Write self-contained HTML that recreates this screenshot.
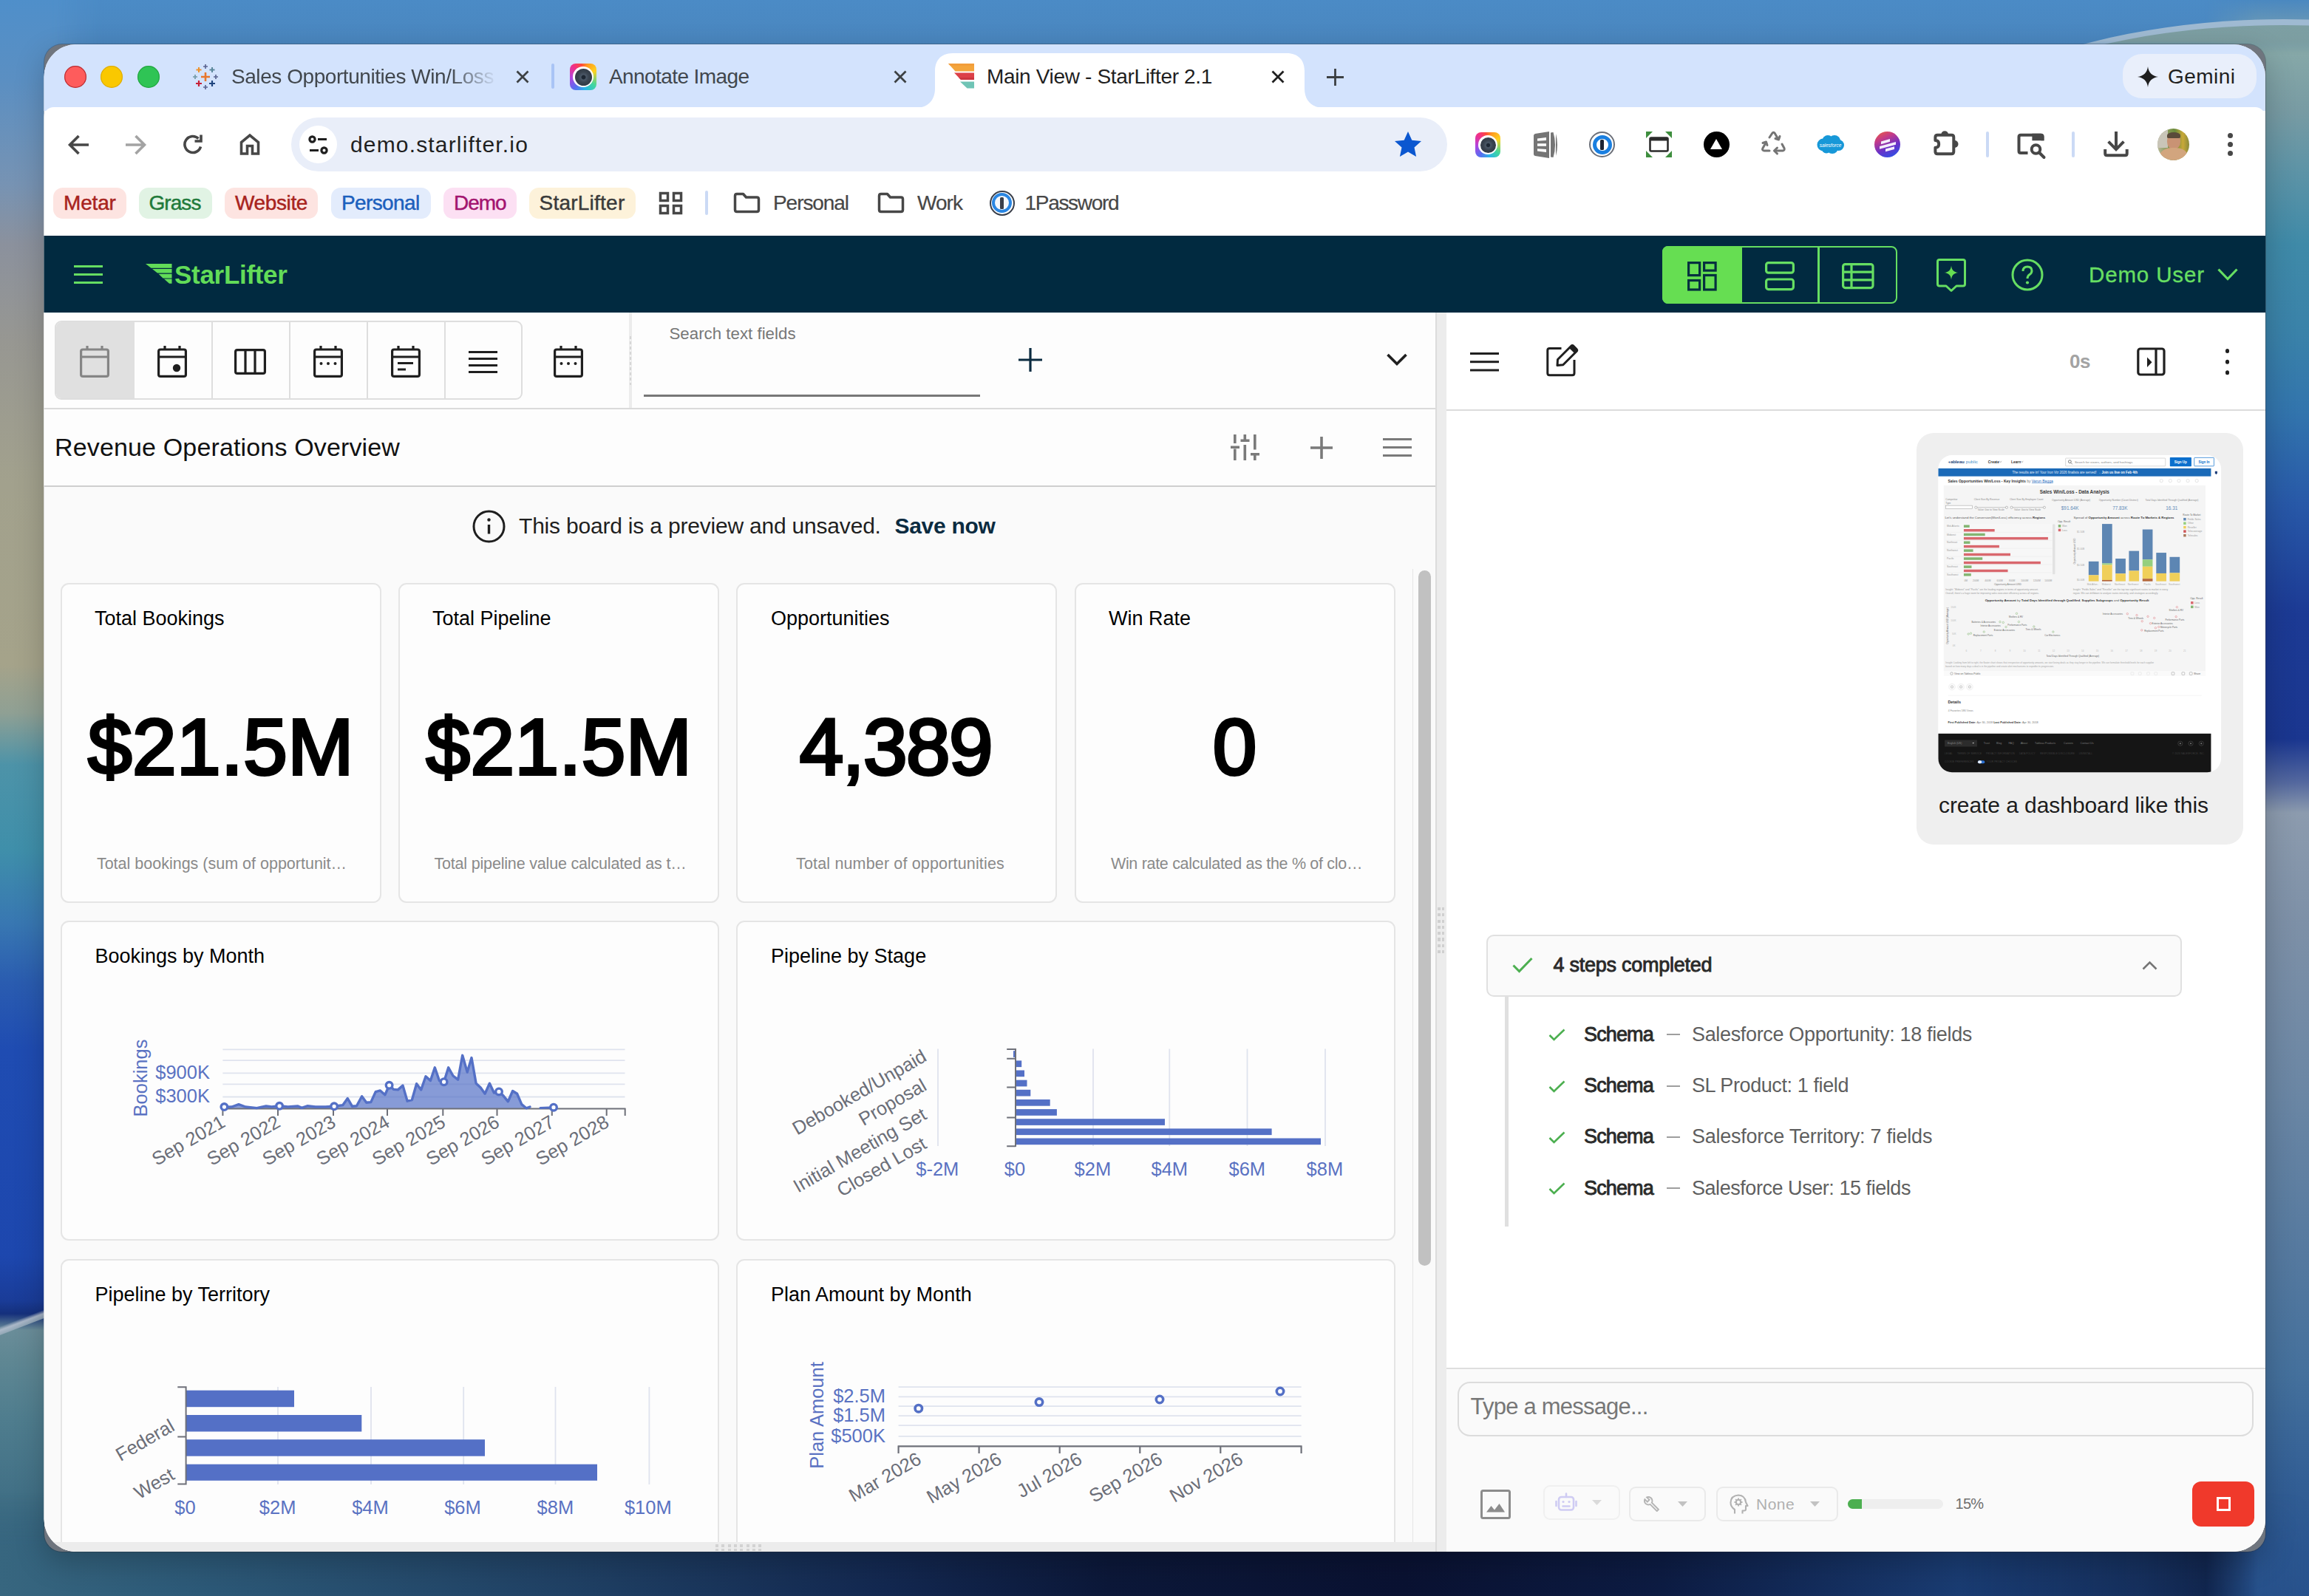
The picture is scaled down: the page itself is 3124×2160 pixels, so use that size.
<!DOCTYPE html>
<html>
<head>
<meta charset="utf-8">
<title>Main View - StarLifter 2.1</title>
<style>
*{box-sizing:border-box;margin:0;padding:0}
html,body{width:3124px;height:2160px;overflow:hidden;background:#1c3a6e}
body{font-family:"Liberation Sans",sans-serif;position:relative;color:#202124}
.abs{position:absolute}
.t{position:absolute;white-space:pre;line-height:1;transform-origin:0 50%}
svg{position:absolute;overflow:visible}
/* ---------- desktop wallpaper ---------- */
#bg{position:absolute;left:0;top:0;width:3124px;height:2160px;
 background:
  linear-gradient(90deg,rgba(0,0,0,0) 0,rgba(0,0,0,0) 100%),
  linear-gradient(180deg,#4b8bc6 0,#4a86be 60px,#4a80b4 140px,#3e6f9e 700px,#2a4f86 1300px,#16305f 1900px,#0b1636 2100px,#0b1738 2160px);}
#bgl{position:absolute;left:0;top:0;width:140px;height:2160px;background:linear-gradient(180deg,#4f8fca 0,#5b8fc2 110px,#7793b3 250px,#8b919d 330px,#979792 460px,#a2a18d 650px,#a5a38a 900px,#8fa094 965px,#4d93a8 1035px,#3f8faa 1150px,#3877b2 1250px,#2a5cb0 1330px,#1f4cb2 1420px,#1d47ae 1700px,#1a3c98 1760px,#15307c 1778px,#6a8d99 1800px,#5f8793 1840px,#4f7d8e 1920px,#3b6a82 2070px,#33607c 2160px);-webkit-mask-image:linear-gradient(90deg,#000 0,#000 70px,rgba(0,0,0,0) 140px);mask-image:linear-gradient(90deg,#000 0,#000 70px,rgba(0,0,0,0) 140px)}
#bgr{position:absolute;left:2984px;top:0;width:140px;height:2160px;background:linear-gradient(180deg,#4a88c0 0,#6a98b5 35px,#86a8a8 70px,#789ba3 150px,#5f94a6 225px,#3f8aa8 330px,#3a82a9 450px,#3274ad 560px,#2859a8 680px,#1c3a94 830px,#1a368f 1000px,#55699f 1060px,#8c9bae 1100px,#7d90a7 1250px,#6a86a4 1486px,#55799f 1700px,#44709c 1862px,#335f95 2000px,#2b5690 2100px,#28528c 2160px);-webkit-mask-image:linear-gradient(270deg,#000 0,#000 70px,rgba(0,0,0,0) 140px);mask-image:linear-gradient(270deg,#000 0,#000 70px,rgba(0,0,0,0) 140px)}
#bgb{position:absolute;left:0;top:2020px;width:3124px;height:140px;background:linear-gradient(90deg,#37667f 0,#2d5a78 250px,#1f3f63 800px,#132850 1200px,#0c1839 1500px,#0a1232 1900px,#0d1c43 2250px,#1a3c72 2650px,#21498280 2900px,#234f8a00 3124px);-webkit-mask-image:linear-gradient(180deg,rgba(0,0,0,0) 0,#000 70px);mask-image:linear-gradient(180deg,rgba(0,0,0,0) 0,#000 70px)}
#bgt{position:absolute;left:2480px;top:0;width:644px;height:74px;overflow:hidden;-webkit-mask-image:linear-gradient(180deg,#000 0,#000 75%,rgba(0,0,0,0) 100%);mask-image:linear-gradient(180deg,#000 0,#000 75%,rgba(0,0,0,0) 100%)}
#bgt i{position:absolute;left:60px;top:26px;width:1100px;height:520px;border-radius:50%;background:linear-gradient(180deg,#7d9fa3 0,#7a9b9e 60px);border-top:8px solid #9fbad2}
#shadow{position:absolute;left:59.500px;top:60px;width:3005.500px;height:2040px;border-radius:24px;background:#6f757e;box-shadow:0 14px 40px rgba(0,0,0,.22),0 0 0 1px rgba(50,55,65,.35)}
/* ---------- window ---------- */
#win{position:absolute;left:0;top:0;width:3124px;height:2160px;clip-path:inset(60px 59px 60px 59.500px round 44px);background:#fff}
#tabstrip{left:59px;top:60px;width:3006px;height:90px;background:#d3e3fd}
#toolbar{left:59px;top:145px;width:3006px;height:174px;background:#fff;border-radius:14px 14px 0 0}
#apphead{left:59px;top:319px;width:3006px;height:104px;background:#012a40}
#left{left:59px;top:423px;width:1883px;height:1680px;background:#fafafa}
#split{left:1942px;top:423px;width:15px;height:1680px;background:#ececec}
#right{left:1957px;top:423px;width:1108px;height:1680px;background:#fff}
</style>
</head>
<body>
<div id="bg"></div><div id="bgl"></div><div id="bgr"></div><div id="bgb"></div><div id="bgt"><i></i></div>
<div class="abs" style="left:-20px;top:1784px;width:100px;height:11px;background:linear-gradient(180deg,rgba(176,188,204,0) 0,rgba(176,188,204,.95) 45%,rgba(150,170,185,.9) 100%);transform:rotate(-21deg);transform-origin:50% 50%"></div>
<div id="shadow"></div>
<div id="win">
<div class="abs" id="tabstrip"></div>
<div class="abs" id="toolbar"></div>
<div class="abs" id="apphead"></div>
<div class="abs" id="left"></div>
<div class="abs" id="split"></div>
<div class="abs" id="right"></div>
<!--TABS-S-->
<!-- traffic lights -->
<div class="abs" style="left:87px;top:89px;width:30px;height:30px;border-radius:50%;background:#fe5c5c;box-shadow:inset 0 0 0 1.200px rgba(130,10,20,.55)"></div>
<div class="abs" style="left:136px;top:89px;width:30px;height:30px;border-radius:50%;background:#fac800;box-shadow:inset 0 0 0 1.200px rgba(190,140,0,.45)"></div>
<div class="abs" style="left:186px;top:89px;width:30px;height:30px;border-radius:50%;background:#2fc455;box-shadow:inset 0 0 0 1.200px rgba(20,130,40,.45)"></div>
<!-- tab 1 : tableau favicon -->
<svg style="left:260px;top:86px" width="36" height="36" viewBox="0 0 36 36" fill="none" stroke-linecap="butt">
 <path d="M18 12v12M12 18h12" stroke="#e8762d" stroke-width="2.6"/>
 <path d="M9 5v7M5.500 8.500h7" stroke="#eb912c" stroke-width="2"/>
 <path d="M27 5v7M23.500 8.500h7" stroke="#5b879b" stroke-width="2"/>
 <path d="M9 23v8M5 27h8" stroke="#c72037" stroke-width="2.200"/>
 <path d="M27 23v8M23 27h8" stroke="#1f457e" stroke-width="2.200"/>
 <path d="M18 1v6M15 4h6" stroke="#5c6692" stroke-width="1.700"/>
 <path d="M18 29v6M15 32h6" stroke="#5c6692" stroke-width="1.700"/>
 <path d="M4 15v6M1 18h6" stroke="#7199a6" stroke-width="1.700"/>
 <path d="M32 15v6M29 18h6" stroke="#5c6692" stroke-width="1.700"/>
</svg>
<div class="t" style="left:313px;top:90px;font-size:28px;letter-spacing:-.44px;color:#41474d;width:360px;overflow:hidden;-webkit-mask-image:linear-gradient(90deg,#000 0,#000 82%,rgba(0,0,0,0) 100%);mask-image:linear-gradient(90deg,#000 0,#000 82%,rgba(0,0,0,0) 100%)">Sales Opportunities Win/Loss</div>
<svg style="left:698px;top:95px" width="18" height="18" viewBox="0 0 18 18"><path d="M1.500 1.500l15 15M16.500 1.500l-15 15" stroke="#3c4043" stroke-width="2.800" fill="none"/></svg>
<div class="abs" style="left:746px;top:86px;width:4px;height:34px;border-radius:2px;background:#a9c4f5"></div>
<!-- tab 2 : camera favicon -->
<div class="abs" style="left:771px;top:86px;width:36px;height:36px;border-radius:8px;background:conic-gradient(from 20deg at 50% 50%,#ff9a1f,#ffd21f 12%,#3fd6a0 30%,#2ab5e8 42%,#5a6cf0 55%,#b044e0 68%,#f0308a 82%,#ff4a3a 92%,#ff9a1f)"></div>
<div class="abs" style="left:775px;top:90px;width:28px;height:28px;border-radius:50%;background:#fff"></div>
<div class="abs" style="left:777.500px;top:92.500px;width:23px;height:23px;border-radius:50%;background:radial-gradient(circle at 50% 50%,#1d2733 0,#1d2733 14%,#4a5766 22%,#39434f 45%,#2b333d 100%)"></div>
<div class="t" style="left:824px;top:90px;font-size:28px;letter-spacing:-.59px;color:#41474d">Annotate Image</div>
<svg style="left:1209px;top:95px" width="18" height="18" viewBox="0 0 18 18"><path d="M1.500 1.500l15 15M16.500 1.500l-15 15" stroke="#3c4043" stroke-width="2.800" fill="none"/></svg>
<!-- active tab -->
<svg style="left:1239px;top:72px" width="552" height="74" viewBox="0 0 552 74"><path d="M0 74 C16 74 26 64 26 48 L26 24 C26 9 35 0 50 0 L502 0 C517 0 526 9 526 24 L526 48 C526 64 536 74 552 74 Z" fill="#fff"/></svg>
<svg style="left:1283px;top:86px" width="35" height="34" viewBox="0 0 35 34">
 <path d="M0 0H35V10.500H9.500Z" fill="#f4a53c"/><path d="M0 0H35V3H2.500Z" fill="#f0973a" opacity=".6"/>
 <path d="M8 12.500H35V22H17Z" fill="#dc4048"/><path d="M14 19H35V22H17Z" fill="#c5323c" opacity=".7"/>
 <path d="M16 24.500H35V33.500H25.500Z" fill="#6fc4b5"/>
</svg>
<div class="t" style="left:1335px;top:90px;font-size:28px;letter-spacing:-.34px;color:#1f1f1f">Main View - StarLifter 2.1</div>
<svg style="left:1720px;top:95px" width="18" height="18" viewBox="0 0 18 18"><path d="M1.500 1.500l15 15M16.500 1.500l-15 15" stroke="#1f1f1f" stroke-width="2.800" fill="none"/></svg>
<svg style="left:1795px;top:93px" width="23" height="23" viewBox="0 0 23 23"><path d="M11.500 0v23M0 11.500h23" stroke="#3c4043" stroke-width="2.800" fill="none"/></svg>
<!-- gemini -->
<div class="abs" style="left:2872px;top:73px;width:181px;height:60px;border-radius:26px;background:#e9effb"></div>
<svg style="left:2892px;top:90px" width="28" height="28" viewBox="0 0 28 28"><path d="M14 0C14.800 8 20 13.200 28 14C20 14.800 14.800 20 14 28C13.200 20 8 14.800 0 14C8 13.200 13.200 8 14 0Z" fill="#1f1f1f"/></svg>
<div class="t" style="left:2933px;top:90px;font-size:28px;letter-spacing:.47px;color:#1f1f1f">Gemini</div>
<!--TABS-E-->
<!--TOOLBAR-S-->
<!-- nav icons -->
<svg style="left:92px;top:182px" width="29" height="28" viewBox="0 0 29 28" fill="none" stroke="#474747" stroke-width="3.600"><path d="M28 14H3.500M14.500 2L2.500 14l12 12" stroke-linejoin="miter"/></svg>
<svg style="left:169px;top:182px" width="29" height="28" viewBox="0 0 29 28" fill="none" stroke="#a3a3a3" stroke-width="3.600"><path d="M1 14H25.500M14.500 2l12 12l-12 12"/></svg>
<svg style="left:247px;top:181px" width="29" height="29" viewBox="0 0 29 29" fill="none" stroke="#474747" stroke-width="3.600"><path d="M24.500 17.500A11 11 0 1 1 21.500 6.500"/><path d="M25 1.500V10h-8.500" stroke-linejoin="miter"/></svg>
<svg style="left:324px;top:180px" width="28" height="30" viewBox="0 0 28 30" fill="none" stroke="#474747" stroke-width="3.600"><path d="M2.500 28V12.500L14 3l11.500 9.500V28H17.500V17.500h-7V28Z" stroke-linejoin="miter"/></svg>
<!-- url pill -->
<div class="abs" style="left:394px;top:159px;width:1564px;height:73px;border-radius:37px;background:#e9eef9"></div>
<div class="abs" style="left:405px;top:170px;width:51px;height:51px;border-radius:50%;background:#fff"></div>
<svg style="left:417px;top:183px" width="28" height="26" viewBox="0 0 28 26" fill="none" stroke="#1f1f1f" stroke-width="3.200"><circle cx="5.500" cy="5.500" r="3.600"/><path d="M13 5.500h12"/><circle cx="21.500" cy="20.500" r="3.600"/><path d="M2 20.500h12"/></svg>
<div class="t" style="left:474px;top:181px;font-size:30px;letter-spacing:1.160px;color:#1f1f1f">demo.starlifter.io</div>
<svg style="left:1887px;top:178px" width="36" height="34" viewBox="0 0 36 34"><path d="M18 0l5.300 11.700L36 13l-9.500 8.600L29.100 34L18 27.600L6.900 34l2.600-12.400L0 13l12.700-1.300Z" fill="#0b57d0"/></svg>
<!-- extension: camera -->
<div class="abs" style="left:1996px;top:179px;width:34px;height:34px;border-radius:8px;background:conic-gradient(from 20deg at 50% 50%,#ff9a1f,#ffd21f 12%,#3fd6a0 30%,#2ab5e8 42%,#5a6cf0 55%,#b044e0 68%,#f0308a 82%,#ff4a3a 92%,#ff9a1f)"></div>
<div class="abs" style="left:2000px;top:183px;width:26px;height:26px;border-radius:50%;background:#fff"></div>
<div class="abs" style="left:2002.500px;top:185.500px;width:21px;height:21px;border-radius:50%;background:radial-gradient(circle at 50% 50%,#1d2733 0,#1d2733 14%,#4a5766 22%,#39434f 45%,#2b333d 100%)"></div>
<!-- extension: gray stacked doc -->
<svg style="left:2074px;top:178px" width="33" height="36" viewBox="0 0 33 36"><path d="M1 5.500Q1 3.500 3 3L22 0V36L3 33Q1 32.500 1 30.500Z" fill="#757575"/><path d="M24 1.500L27.500 1Q30 9 30 18T27.500 35L24 34.500Z" fill="#757575"/><path d="M31 3Q33 10 33 18T31 33Z" fill="#757575"/><path d="M6 9.500l12-1.500v4l-12 .8ZM6 16.200h12v3.600h-12ZM6 23.200l12 .8v4l-12-1.500Z" fill="#fff"/></svg>
<!-- extension: 1Password -->
<div class="abs" style="left:2150px;top:178px;width:35px;height:35px;border-radius:50%;background:#fff;border:2.500px solid #6b6f78"></div>
<div class="abs" style="left:2154.500px;top:182.500px;width:26px;height:26px;border-radius:50%;background:#fff;border:5px solid #1a7fe0"></div>
<div class="abs" style="left:2165px;top:188.500px;width:5px;height:14px;border-radius:1.500px;background:#1c2433"></div>
<!-- extension: screen capture -->
<svg style="left:2227px;top:178px" width="35" height="35" viewBox="0 0 35 35"><path d="M0 0h9L0 9ZM35 0h-9L35 9ZM0 35h9L0 26ZM35 35h-9L35 26Z" fill="#3e8e3e"/><rect x="5.500" y="8.500" width="24" height="18" rx="1.500" fill="#fff" stroke="#2b2b2b" stroke-width="2.600"/><path d="M5.500 10.500h24" stroke="#2b2b2b" stroke-width="4"/></svg>
<!-- extension: black triangle -->
<div class="abs" style="left:2304.500px;top:178px;width:35px;height:35px;border-radius:50%;background:#000"></div>
<svg style="left:2314px;top:187.500px" width="16" height="14" viewBox="0 0 16 14"><path d="M8 0L16 14H0Z" fill="#fff"/></svg>
<!-- extension: recycle -->
<svg style="left:2382px;top:178px" width="34" height="35" viewBox="0 0 34 35" fill="none" stroke="#757575" stroke-width="3" stroke-linejoin="round" stroke-linecap="round"><path d="M12 8l4-6q1.500-1.500 3 0l5 8.500"/><path d="M20 9.500l4.500 1.500l1.500-4.500"/><path d="M29 17l3 5.500q1 3-2 3.500h-11"/><path d="M22.500 22l-4 4l4 4"/><path d="M12 26H5q-3.500-.5-2-3.500l4.500-8"/><path d="M3 15.500l4.500-1.500l1.500 4.500"/></svg>
<!-- extension: salesforce -->
<svg style="left:2458px;top:182px" width="37" height="27" viewBox="0 0 37 27"><g fill="#1798d8"><circle cx="9" cy="14" r="8.500"/><circle cx="15" cy="8.500" r="7.500"/><circle cx="24" cy="9" r="8"/><circle cx="29.500" cy="14.500" r="7.500"/><circle cx="21" cy="18" r="8"/><circle cx="13" cy="19" r="6.500"/></g><text x="18.500" y="16.500" font-family="Liberation Sans" font-style="italic" font-size="6.500" fill="#fff" text-anchor="middle">salesforce</text></svg>
<!-- extension: purple circle -->
<div class="abs" style="left:2536px;top:178px;width:35px;height:35px;border-radius:50%;background:linear-gradient(155deg,#f0603a 0,#c23a8a 30%,#6a32c8 60%,#3a4ae0 85%,#2a8af0 100%)"></div>
<svg style="left:2543px;top:186px" width="22" height="19" viewBox="0 0 22 19"><path d="M2 5.500l12-3.500v3.800l-12 3.500ZM0 12l22-6v3.800l-22 6ZM8 15.500l12-3.300v3.800l-12 3.300Z" fill="#f4eefc"/></svg>
<!-- extension: puzzle -->
<svg style="left:2614px;top:174px" width="40" height="40" viewBox="0 0 40 40"><path d="M4.400 11.800Q4.400 8.800 7.400 8.800H26.300Q29.300 8.800 29.300 11.800V31.300Q29.300 34.300 26.300 34.300H7.400Q4.400 34.300 4.400 31.300V25.800Q9.200 25.600 9.200 20.900T4.400 16Z" fill="none" stroke="#474747" stroke-width="4" stroke-linejoin="round"/><path d="M12.400 8A4.800 4.800 0 0 1 22 8Z" fill="#474747"/><path d="M30.500 16A5 5 0 0 1 30.500 26Z" fill="#474747"/></svg>
<div class="abs" style="left:2687px;top:178px;width:4px;height:35px;border-radius:2px;background:#cbdaf5"></div>
<!-- media / tab search -->
<svg style="left:2727px;top:178px" width="42" height="38" viewBox="0 0 42 38" fill="none" stroke="#474747" stroke-width="4"><path d="M16.500 29H7Q4.500 29 4.500 26.500V7.300Q4.500 4.800 7 4.800H33.900Q36.400 4.800 36.400 7.300V12.300"/><path d="M22.400 2.650H34.500Q38.550 2.650 38.550 6.700V12.300H22.400Z" fill="#474747" stroke="none"/><circle cx="27.500" cy="24" r="5.800" stroke-width="4"/><path d="M32 28.500L38.500 35" stroke-width="4" stroke-linecap="round"/></svg>
<div class="abs" style="left:2803px;top:178px;width:4px;height:35px;border-radius:2px;background:#cbdaf5"></div>
<!-- download -->
<svg style="left:2844px;top:176px" width="38" height="38" viewBox="0 0 38 38" fill="none" stroke="#474747" stroke-width="4"><path d="M19 2V26M8.600 15.600L19 26.200L29.400 15.600" stroke-linejoin="miter"/><path d="M4.200 26V31.700Q4.200 34.200 6.700 34.200H31.200Q33.700 34.200 33.700 31.700V26" stroke-linejoin="round"/></svg>
<!-- avatar -->
<div class="abs" style="left:2919px;top:174px;width:43px;height:43px;border-radius:50%;overflow:hidden;background:linear-gradient(90deg,#b8b89a 0,#8a9a5a 30%,#6a8a3a 55%,#c8a838 80%,#8a8a3a 100%)">
 <div class="abs" style="left:0;top:0;width:14px;height:26px;background:#c9c5b8"></div>
 <div class="abs" style="left:13px;top:6px;width:18px;height:22px;border-radius:45%;background:#c99374"></div>
 <div class="abs" style="left:13px;top:5px;width:18px;height:8px;border-radius:50% 50% 20% 20%;background:#5a4a3a"></div>
 <div class="abs" style="left:3px;top:26px;width:38px;height:24px;border-radius:45% 45% 0 0;background:#d2a57e"></div>
</div>
<div class="abs" style="left:3013.500px;top:180px;width:7px;height:7px;border-radius:50%;background:#474747;box-shadow:0 12px 0 #474747,0 24px 0 #474747"></div>
<!--TOOLBAR-E-->
<!--BOOKMARKS-S-->
<style>
.chip{position:absolute;top:254px;height:42px;border-radius:13px}
.bm{position:absolute;white-space:pre;line-height:1;top:261px;font-size:28px;-webkit-text-stroke:.45px currentColor}
.bmn{position:absolute;white-space:pre;line-height:1;top:261px;font-size:28px;color:#474747;-webkit-text-stroke:.2px currentColor}
</style>
<div class="chip" style="left:72px;width:99px;background:#fde4e1"></div><div class="bm" style="left:86px;letter-spacing:-.18px;color:#a8231d">Metar</div>
<div class="chip" style="left:188px;width:99px;background:#e1f3e4"></div><div class="bm" style="left:201.500px;letter-spacing:-.94px;color:#1f7a3a">Grass</div>
<div class="chip" style="left:304px;width:126px;background:#fde4e1"></div><div class="bm" style="left:318px;letter-spacing:-.38px;color:#a8231d">Website</div>
<div class="chip" style="left:448px;width:135px;background:#e3ecfc"></div><div class="bm" style="left:462px;letter-spacing:-.63px;color:#1c5fbd">Personal</div>
<div class="chip" style="left:600px;width:99px;background:#fce0f3"></div><div class="bm" style="left:614px;letter-spacing:-1px;color:#a3146f">Demo</div>
<div class="chip" style="left:716px;width:144px;background:#fdf2da"></div><div class="bm" style="left:729.500px;letter-spacing:.24px;color:#3a3a3a">StarLifter</div>
<svg style="left:892px;top:260px" width="31" height="30" viewBox="0 0 31 30" fill="none" stroke="#474747" stroke-width="3.500"><rect x="1.500" y="1.500" width="10" height="10"/><rect x="19.500" y="1.500" width="10" height="10"/><rect x="1.500" y="18.500" width="10" height="10"/><rect x="19.500" y="18.500" width="10" height="10"/></svg>
<div class="abs" style="left:954px;top:258px;width:4px;height:33px;border-radius:2px;background:#cbdaf5"></div>
<svg style="left:993px;top:261px" width="35" height="27" viewBox="0 0 35 27" fill="none" stroke="#474747" stroke-width="3.500" stroke-linejoin="round"><path d="M1.500 4Q1.500 1.500 4 1.500h8.500l4 4.500H31Q33.500 6 33.500 8.500V23Q33.500 25.500 31 25.500H4Q1.500 25.500 1.500 23Z"/></svg>
<div class="bmn" style="left:1046px;letter-spacing:-1.060px">Personal</div>
<svg style="left:1188px;top:261px" width="35" height="27" viewBox="0 0 35 27" fill="none" stroke="#474747" stroke-width="3.500" stroke-linejoin="round"><path d="M1.500 4Q1.500 1.500 4 1.500h8.500l4 4.500H31Q33.500 6 33.500 8.500V23Q33.500 25.500 31 25.500H4Q1.500 25.500 1.500 23Z"/></svg>
<div class="bmn" style="left:1241px;letter-spacing:-.96px">Work</div>
<div class="abs" style="left:1338.500px;top:257.500px;width:34px;height:34px;border-radius:50%;background:#fff;border:2px solid #3a3f4a"></div>
<div class="abs" style="left:1342px;top:261px;width:27px;height:27px;border-radius:50%;background:#f4f7fb;border:4px solid #2a86e2"></div>
<div class="abs" style="left:1353px;top:266.500px;width:5px;height:16px;border-radius:1.500px;background:#3a3f4a"></div>
<div class="bmn" style="left:1386.500px;letter-spacing:-1.300px">1Password</div>
<!--BOOKMARKS-E-->
<!--APPHEAD-S-->
<!-- hamburger -->
<div class="abs" style="left:100px;top:359px;width:39px;height:3px;background:#66de62;box-shadow:0 11px 0 #66de62,0 22px 0 #66de62"></div>
<!-- logo -->
<svg style="left:197px;top:357px" width="36" height="27" viewBox="0 0 36 27" fill="#62dc58"><path d="M0 0H35.500V5.800H7.500Z"/><path d="M9 7H35.500V12.600H16Z"/><path d="M17.500 13.800H35.500V19.400H23.500Z"/><path d="M25 20.600H35.500V26.800H32Z"/></svg>
<div class="t" style="left:236px;top:354px;font-size:35px;font-weight:700;letter-spacing:-.3px;color:#62dc58">StarLifter</div>
<!-- toggle group -->
<div class="abs" style="left:2249px;top:332.500px;width:318px;height:78px;border-radius:8px;border:2.500px solid #66de62"></div>
<div class="abs" style="left:2249px;top:332.500px;width:108px;height:78px;border-radius:8px 0 0 8px;background:#66de52"></div>
<div class="abs" style="left:2459px;top:333px;width:2.500px;height:77px;background:#66de62"></div>
<svg style="left:2283px;top:354px" width="40" height="40" viewBox="0 0 40 40" fill="none" stroke="#05303f" stroke-width="3.200"><rect x="1.600" y="1.600" width="15" height="17"/><rect x="22.600" y="1.600" width="15.500" height="10.500"/><rect x="1.600" y="25.500" width="15" height="12.500"/><rect x="22.600" y="18.500" width="15.500" height="19.500"/></svg>
<svg style="left:2388px;top:354px" width="40" height="40" viewBox="0 0 40 40" fill="none" stroke="#66de62" stroke-width="3.200"><rect x="1.600" y="1.600" width="36.800" height="13.600" rx="3"/><rect x="1.600" y="24" width="36.800" height="13.600" rx="3"/></svg>
<svg style="left:2492px;top:356px" width="44" height="36" viewBox="0 0 44 36" fill="none" stroke="#66de62" stroke-width="3.200"><rect x="1.600" y="1.600" width="40.400" height="32" rx="3"/><path d="M1.600 12.200h40.400M1.600 22.800h40.400M13 1.600v32"/></svg>
<!-- AI chat -->
<svg style="left:2620px;top:350px" width="40" height="46" viewBox="0 0 40 46" fill="none" stroke="#66de62" stroke-width="3"><path d="M4 1.500H36Q38.500 1.500 38.500 4V34.500Q38.500 37 36 37H27L20 43.500L13 37H4Q1.500 37 1.500 34.500V4Q1.500 1.500 4 1.500Z" stroke-linejoin="round"/><path d="M20 9.500C20.600 15.500 23.500 18.400 29.500 19C23.500 19.600 20.600 22.500 20 28.500C19.400 22.500 16.500 19.600 10.500 19C16.500 18.400 19.400 15.500 20 9.500Z" fill="#66de52" stroke="none"/></svg>
<!-- help -->
<svg style="left:2721px;top:350px" width="44" height="44" viewBox="0 0 44 44" fill="none" stroke="#66de62" stroke-width="3"><circle cx="22" cy="22" r="20"/><path d="M16 17Q16 11 22 11T28 16.500Q28 19.500 25 21.500T22 27" stroke-width="3"/><circle cx="22" cy="32.500" r="2.100" fill="#66de62" stroke="none"/></svg>
<div class="t" style="left:2826px;top:357px;font-size:29.500px;letter-spacing:.85px;color:#66de62;-webkit-text-stroke:.35px #66de62">Demo User</div>
<svg style="left:3000px;top:363px" width="28" height="17" viewBox="0 0 28 17" fill="none" stroke="#66de62" stroke-width="3.200"><path d="M1.500 1.500L14 14.500L26.500 1.500"/></svg>
<!--APPHEAD-E-->
<!--LEFTTOP-S-->
<!-- toolbar row + title row backgrounds -->
<div class="abs" style="left:59px;top:423px;width:1883px;height:236px;background:#fdfdfd"></div>
<div class="abs" style="left:59px;top:552px;width:1883px;height:2px;background:#dadada"></div>
<div class="abs" style="left:59px;top:657px;width:1883px;height:2px;background:#cfcfcf"></div>
<div class="abs" style="left:1942px;top:423px;width:2px;height:1680px;background:#dcdcdc"></div>
<!-- button group -->
<div class="abs" style="left:74px;top:434px;width:633px;height:107px;border-radius:9px;border:2px solid #dedede;background:#fdfdfd;overflow:hidden">
 <div class="abs" style="left:-2px;top:-2px;width:108px;height:107px;background:#e0e0e0"></div>
 <div class="abs" style="left:209.500px;top:0;width:2px;height:103px;background:#dedede"></div>
 <div class="abs" style="left:314.500px;top:0;width:2px;height:103px;background:#dedede"></div>
 <div class="abs" style="left:419.500px;top:0;width:2px;height:103px;background:#dedede"></div>
 <div class="abs" style="left:525px;top:0;width:2px;height:103px;background:#dedede"></div>
</div>
<svg style="left:108px;top:468px" width="40" height="43" viewBox="0 0 40 43" fill="none" stroke="#858585" stroke-width="3.200"><rect x="1.600" y="5" width="36.800" height="36.400" rx="2.500"/><path d="M1.600 15h36.800M10 0v5M30 0v5"/></svg>
<svg style="left:213px;top:468px" width="40" height="43" viewBox="0 0 40 43" fill="none" stroke="#1f1f1f" stroke-width="3.200"><rect x="1.600" y="5" width="36.800" height="36.400" rx="2.500"/><path d="M1.600 15h36.800M10 0v5M30 0v5"/><circle cx="26" cy="30" r="5.200" fill="#1f1f1f" stroke="none"/></svg>
<svg style="left:317px;top:472px" width="43" height="35" viewBox="0 0 43 35" fill="none" stroke="#1f1f1f" stroke-width="3.200"><rect x="1.600" y="1.600" width="39.800" height="31.800" rx="2.500"/><path d="M15 1.600v31.800M28 1.600v31.800"/></svg>
<svg style="left:423.500px;top:468px" width="40" height="43" viewBox="0 0 40 43" fill="none" stroke="#1f1f1f" stroke-width="3.200"><rect x="1.600" y="5" width="36.800" height="36.400" rx="2.500"/><path d="M1.600 15h36.800M10 0v5M30 0v5"/><g fill="#1f1f1f" stroke="none"><circle cx="10.500" cy="24" r="2"/><circle cx="20" cy="24" r="2"/><circle cx="29.500" cy="24" r="2"/></g></svg>
<svg style="left:528.500px;top:468px" width="40" height="43" viewBox="0 0 40 43" fill="none" stroke="#1f1f1f" stroke-width="3.200"><rect x="1.600" y="5" width="36.800" height="36.400" rx="2.500"/><path d="M1.600 15h36.800M10 0v5M30 0v5M9 23.500h21M9 32h11"/></svg>
<div class="abs" style="left:634px;top:475px;width:39px;height:3px;background:#1f1f1f;box-shadow:0 9px 0 #1f1f1f,0 18px 0 #1f1f1f,0 27px 0 #1f1f1f"></div>
<svg style="left:748.500px;top:468px" width="40" height="43" viewBox="0 0 40 43" fill="none" stroke="#1f1f1f" stroke-width="3.200"><rect x="1.600" y="5" width="36.800" height="36.400" rx="2.500"/><path d="M1.600 15h36.800M10 0v5M30 0v5"/><g fill="#1f1f1f" stroke="none"><circle cx="10.500" cy="24" r="2"/><circle cx="20" cy="24" r="2"/><circle cx="29.500" cy="24" r="2"/></g></svg>
<!-- vertical divider with handle -->
<div class="abs" style="left:851px;top:423px;width:4px;height:129px;background:#ececec"></div>
<div class="abs" style="left:852px;top:455px;width:2px;height:66px;background:repeating-linear-gradient(180deg,#d6d6d6 0,#d6d6d6 4px,#f2f2f2 4px,#f2f2f2 7px)"></div>
<!-- search -->
<div class="t" style="left:905.500px;top:441px;font-size:22.300px;letter-spacing:0;color:#777">Search text fields</div>
<div class="abs" style="left:871px;top:534px;width:455px;height:2.500px;background:#777"></div>
<svg style="left:1378px;top:471px" width="32" height="32" viewBox="0 0 32 32"><path d="M16 0v32M0 16h32" stroke="#0b2b40" stroke-width="3.200" fill="none"/></svg>
<svg style="left:1876px;top:478px" width="28" height="18" viewBox="0 0 28 18"><path d="M1.500 2L14 14.500L26.500 2" stroke="#1f1f1f" stroke-width="3.600" fill="none"/></svg>
<!-- title row -->
<div class="t" style="left:74px;top:588px;font-size:34px;letter-spacing:.15px;color:#111">Revenue Operations Overview</div>
<svg style="left:1665px;top:588px" width="40" height="35" viewBox="0 0 40 35" fill="none" stroke="#7a7a7a" stroke-width="3.600"><path d="M5.800 0v12M5.800 19.500v15.500M0 17.200h12M19.300 0v6.500M19.300 14v21M13.500 8.300h12M32.800 0v20.500M32.800 28.500v6.500M27 26.700h12"/></svg>
<svg style="left:1772.500px;top:590.500px" width="30" height="30" viewBox="0 0 30 30"><path d="M15 0v30M0 15h30" stroke="#7a7a7a" stroke-width="3.600" fill="none"/></svg>
<div class="abs" style="left:1871px;top:592.500px;width:39px;height:3.600px;background:#7a7a7a;box-shadow:0 11px 0 #7a7a7a,0 22px 0 #7a7a7a"></div>
<!-- info row -->
<svg style="left:638.500px;top:689.500px" width="45" height="45" viewBox="0 0 45 45" fill="none" stroke="#1f1f1f" stroke-width="3"><circle cx="22.500" cy="22.500" r="20.500"/><path d="M22.500 20v12.500" stroke-width="3.400"/><circle cx="22.500" cy="13.500" r="2.200" fill="#1f1f1f" stroke="none"/></svg>
<div class="t" style="left:702px;top:697px;font-size:30px;letter-spacing:-.2px;color:#1f1f1f">This board is a preview and unsaved.</div>
<div class="t" style="left:1210.500px;top:697px;font-size:30px;font-weight:700;letter-spacing:-.3px;color:#0b2b40">Save now</div>
<!-- scrollbar -->
<div class="abs" style="left:1911px;top:770px;width:31px;height:1333px;background:#fafafa;border-left:1.500px solid #e6e6e6"></div>
<div class="abs" style="left:1918.500px;top:772px;width:17px;height:941px;border-radius:9px;background:#c1c1c1"></div>
<!--LEFTTOP-E-->
<!--KPI-S-->
<style>
.card{position:absolute;border-radius:11px;border:2px solid #e5e5e5;background:#fdfdfd}
.ct{position:absolute;white-space:pre;line-height:1;font-size:27px;color:#000}
.kv{position:absolute;white-space:pre;line-height:1;font-size:107px;font-weight:400;-webkit-text-stroke:4px #000;color:#000;text-align:center;width:434px;top:958px}
.kd{position:absolute;white-space:pre;line-height:1;font-size:21.500px;color:#8a8a8a;text-align:center;width:434px;top:1159px}
</style>
<div class="card" style="left:81.500px;top:789px;width:434px;height:433px"></div>
<div class="card" style="left:539px;top:789px;width:434px;height:433px"></div>
<div class="card" style="left:996px;top:789px;width:434px;height:433px"></div>
<div class="card" style="left:1453.500px;top:789px;width:434px;height:433px"></div>
<div class="ct" style="left:128px;top:824px">Total Bookings</div>
<div class="ct" style="left:585px;top:824px">Total Pipeline</div>
<div class="ct" style="left:1043px;top:824px">Opportunities</div>
<div class="ct" style="left:1500px;top:824px">Win Rate</div>
<div class="kv" style="left:82px;letter-spacing:.5px">$21.5M</div>
<div class="kv" style="left:539.500px;letter-spacing:.5px">$21.5M</div>
<div class="kv" style="left:995px;letter-spacing:-1.500px">4,389</div>
<div class="kv" style="left:1453.500px">0</div>
<div class="kd" style="left:83px">Total bookings (sum of opportunit…</div>
<div class="kd" style="left:541px;letter-spacing:-.18px">Total pipeline value calculated as t…</div>
<div class="kd" style="left:1001px;letter-spacing:.16px">Total number of opportunities</div>
<div class="kd" style="left:1456px;letter-spacing:-.31px">Win rate calculated as the % of clo…</div>
<!--KPI-E-->
<!--CHARTS-S-->
<div class="card" style="left:82px;top:1246px;width:891px;height:433px"></div>
<div class="card" style="left:996px;top:1246px;width:892px;height:433px"></div>
<div class="card" style="left:82px;top:1703.500px;width:891px;height:433px"></div>
<div class="card" style="left:996px;top:1703.500px;width:892px;height:433px"></div>
<div class="ct" style="left:128.500px;top:1281px">Bookings by Month</div>
<div class="ct" style="left:1043px;top:1281px">Pipeline by Stage</div>
<div class="ct" style="left:128.500px;top:1738.500px">Pipeline by Territory</div>
<div class="ct" style="left:1043px;top:1738.500px">Plan Amount by Month</div>
<svg style="left:0;top:0" width="3124" height="2160" viewBox="0 0 3124 2160" font-family="Liberation Sans" font-size="25.5">
<g stroke="#dfe3ee" stroke-width="1.800">
<path d="M301.4 1420.3H845.5"/>
<path d="M301.4 1435.2H845.5"/>
<path d="M301.4 1452.4H845.5"/>
<path d="M301.4 1467.4H845.5"/>
<path d="M301.4 1484.5H845.5"/>
</g>
<path d="M303.4 1498.1 L313.6 1498 L322.9 1494.7 L332.2 1498 L347.4 1499.6 L360 1497 L367.6 1498 L378.1 1496.8 L389.6 1498 L403.1 1497 L408.2 1499.4 L415.8 1496.8 L426.8 1498 L440.3 1498 L452.1 1497.3 L463.9 1495.6 L470.3 1486.6 L476.6 1497.3 L482.5 1496.8 L489.6 1483.7 L495.8 1492.2 L501.8 1491.6 L508.2 1477.6 L514.4 1475.9 L520.9 1481.7 L526.6 1468.8 L532.7 1474.4 L538.4 1474.9 L545 1469.1 L551.1 1490.2 L557.4 1488.5 L563.6 1466.7 L569.7 1474.9 L576 1456.8 L582.4 1462.5 L588.3 1444.8 L594.4 1462.5 L600.6 1464.2 L606.7 1444.8 L613 1456 L619.6 1461.2 L625.7 1428.3 L632.2 1451 L638 1431.6 L644.1 1466.3 L650.3 1472.1 L656.1 1480.2 L662.4 1466.2 L668.4 1479 L675 1477.4 L681.1 1483.1 L687.4 1490.8 L693.6 1476.5 L699.7 1480.3 L705.8 1494.6 L712 1499.8 L717 1498 L717 1500 L303.4 1500 Z" fill="#5470c6" fill-opacity=".7"/>
<path d="M301.4 1500.400H846.500M301.400 1500v10M376 1500v10M451 1500v10M524 1500v10M599.300 1500v10M672.500 1500v10M746.800 1500v10M820.700 1500v10M845.700 1500v10" stroke="#6e7079" stroke-width="2" fill="none"/>
<path d="M303.4 1498.1 L313.6 1498 L322.9 1494.7 L332.2 1498 L347.4 1499.6 L360 1497 L367.6 1498 L378.1 1496.8 L389.6 1498 L403.1 1497 L408.2 1499.4 L415.8 1496.8 L426.8 1498 L440.3 1498 L452.1 1497.3 L463.9 1495.6 L470.3 1486.6 L476.6 1497.3 L482.5 1496.8 L489.6 1483.7 L495.8 1492.2 L501.8 1491.6 L508.2 1477.6 L514.4 1475.9 L520.9 1481.7 L526.6 1468.8 L532.7 1474.4 L538.4 1474.9 L545 1469.1 L551.1 1490.2 L557.4 1488.5 L563.6 1466.7 L569.7 1474.9 L576 1456.8 L582.4 1462.5 L588.3 1444.8 L594.4 1462.5 L600.6 1464.2 L606.7 1444.8 L613 1456 L619.6 1461.2 L625.7 1428.3 L632.2 1451 L638 1431.6 L644.1 1466.3 L650.3 1472.1 L656.1 1480.2 L662.4 1466.2 L668.4 1479 L675 1477.4 L681.1 1483.1 L687.4 1490.8 L693.6 1476.5 L699.7 1480.3 L705.8 1494.6 L712 1499.8 L717 1498" fill="none" stroke="#5470c6" stroke-width="3.400" stroke-linejoin="round" stroke-linecap="round"/>
<path d="M731 1499.600L749 1498.700" fill="none" stroke="#5470c6" stroke-width="3" stroke-linecap="round"/>
<circle cx="303.4" cy="1498.1" r="4.300" fill="#fff" stroke="#5470c6" stroke-width="3.400"/>
<circle cx="378.1" cy="1496.8" r="4.300" fill="#fff" stroke="#5470c6" stroke-width="3.400"/>
<circle cx="452.1" cy="1497.3" r="4.300" fill="#fff" stroke="#5470c6" stroke-width="3.400"/>
<circle cx="526.6" cy="1468.8" r="4.300" fill="#fff" stroke="#5470c6" stroke-width="3.400"/>
<circle cx="600.6" cy="1464.2" r="4.300" fill="#fff" stroke="#5470c6" stroke-width="3.400"/>
<circle cx="675" cy="1477.4" r="4.300" fill="#fff" stroke="#5470c6" stroke-width="3.400"/>
<circle cx="749" cy="1498.7" r="4.300" fill="#fff" stroke="#5470c6" stroke-width="3.400"/>
<g fill="#5a72c2" text-anchor="end">
<text x="284" y="1459.800">$900K</text><text x="284" y="1492.200">$300K</text>
</g>
<text transform="translate(198.500 1459) rotate(-90)" text-anchor="middle" fill="#5a72c2">Bookings</text>
<g fill="#6b6e78" text-anchor="end">
<text transform="translate(302.2 1516) rotate(-30)" y="8.700">Sep 2021</text>
<text transform="translate(376.8 1516) rotate(-30)" y="8.700">Sep 2022</text>
<text transform="translate(451.8 1516) rotate(-30)" y="8.700">Sep 2023</text>
<text transform="translate(524.8 1516) rotate(-30)" y="8.700">Sep 2024</text>
<text transform="translate(600.1 1516) rotate(-30)" y="8.700">Sep 2025</text>
<text transform="translate(673.3 1516) rotate(-30)" y="8.700">Sep 2026</text>
<text transform="translate(747.6 1516) rotate(-30)" y="8.700">Sep 2027</text>
<text transform="translate(821.5 1516) rotate(-30)" y="8.700">Sep 2028</text>
</g>
<g stroke="#dfe3ee" stroke-width="1.800">
<path d="M1269 1419.500V1551"/>
<path d="M1479 1419.500V1551"/>
<path d="M1582.3 1419.500V1551"/>
<path d="M1687.5 1419.500V1551"/>
<path d="M1793 1419.500V1551"/>
</g>
<g fill="#5470c6">
<rect x="1371" y="1422.200" width="3" height="8.700"/>
<rect x="1374" y="1435.4" width="8.2" height="8.700"/>
<rect x="1374" y="1448.5" width="12" height="8.700"/>
<rect x="1374" y="1461.7" width="15.5" height="8.700"/>
<rect x="1374" y="1474.8" width="20.3" height="8.700"/>
<rect x="1374" y="1488" width="46.7" height="8.700"/>
<rect x="1374" y="1501.1" width="55.9" height="8.700"/>
<rect x="1374" y="1514.2" width="202" height="8.700"/>
<rect x="1374" y="1527.4" width="346.6" height="8.700"/>
<rect x="1374" y="1540.5" width="413" height="8.700"/>
</g>
<path d="M1374 1419V1552M1362.200 1420H1374M1362.200 1432.800H1374M1362.200 1471.600H1374M1362.200 1512.600H1374M1362.200 1551.200H1374" stroke="#6e7079" stroke-width="2" fill="none"/>
<g fill="#5a72c2" text-anchor="middle">
<text x="1268.3" y="1591">$-2M</text>
<text x="1373" y="1591">$0</text>
<text x="1478.4" y="1591">$2M</text>
<text x="1582.3" y="1591">$4M</text>
<text x="1687.3" y="1591">$6M</text>
<text x="1792.4" y="1591">$8M</text>
</g>
<g fill="#6b6e78" text-anchor="end">
<text transform="translate(1251 1427.1) rotate(-30)" y="8.700">Debooked/Unpaid</text>
<text transform="translate(1251 1466.5) rotate(-30)" y="8.700">Proposal</text>
<text transform="translate(1251 1505.9) rotate(-30)" y="8.700">Initial Meeting Set</text>
<text transform="translate(1251 1545.4) rotate(-30)" y="8.700">Closed Lost</text>
</g>
<g stroke="#dfe3ee" stroke-width="1.800">
<path d="M376 1877V2009"/>
<path d="M502 1877V2009"/>
<path d="M627.2 1877V2009"/>
<path d="M751.5 1877V2009"/>
<path d="M878.4 1877V2009"/>
</g>
<g fill="#5470c6">
<rect x="252" y="1881.7" width="146" height="22.5"/>
<rect x="252" y="1915" width="237.3" height="22.5"/>
<rect x="252" y="1948.2" width="404" height="22.5"/>
<rect x="252" y="1981.7" width="556" height="22.1"/>
</g>
<path d="M251.600 1876.200V2009.500M240.300 1877.200H251.600M240.300 1944.400H251.600M240.300 2008.500H251.600" stroke="#6e7079" stroke-width="2" fill="none"/>
<g fill="#5a72c2" text-anchor="middle">
<text x="250.5" y="2048.500">$0</text>
<text x="375.6" y="2048.500">$2M</text>
<text x="501" y="2048.500">$4M</text>
<text x="626" y="2048.500">$6M</text>
<text x="751.4" y="2048.500">$8M</text>
<text x="876.8" y="2048.500">$10M</text>
</g>
<g fill="#6b6e78" text-anchor="end">
<text transform="translate(233.500 1927.5) rotate(-30)" y="8.700">Federal</text>
<text transform="translate(233.500 1993.5) rotate(-30)" y="8.700">West</text>
</g>
<g stroke="#dfe3ee" stroke-width="1.800">
<path d="M1215.600 1877.1H1760.600"/>
<path d="M1215.600 1890.3H1760.600"/>
<path d="M1215.600 1903.1H1760.600"/>
<path d="M1215.600 1916.1H1760.600"/>
<path d="M1215.600 1929.1H1760.600"/>
<path d="M1215.600 1943.8H1760.600"/>
</g>
<path d="M1214.600 1957.300H1761.600M1215.600 1957v10M1324.600 1957v10M1433.700 1957v10M1542.300 1957v10M1651.300 1957v10M1760.600 1957v10" stroke="#6e7079" stroke-width="2.200" fill="none"/>
<circle cx="1242.8" cy="1906.2" r="4.700" fill="#fff" stroke="#5470c6" stroke-width="3.600"/>
<circle cx="1406" cy="1897.6" r="4.700" fill="#fff" stroke="#5470c6" stroke-width="3.600"/>
<circle cx="1569" cy="1894" r="4.700" fill="#fff" stroke="#5470c6" stroke-width="3.600"/>
<circle cx="1732" cy="1883" r="4.700" fill="#fff" stroke="#5470c6" stroke-width="3.600"/>
<g fill="#5a72c2" text-anchor="end">
<text x="1198" y="1898.300">$2.5M</text><text x="1198" y="1924.200">$1.5M</text><text x="1198" y="1951.800">$500K</text>
</g>
<text transform="translate(1113.500 1915.500) rotate(-90)" text-anchor="middle" fill="#5a72c2">Plan Amount</text>
<g fill="#6b6e78" text-anchor="end">
<text transform="translate(1244 1972) rotate(-30)" y="8.700">Mar 2026</text>
<text transform="translate(1352.8 1972) rotate(-30)" y="8.700">May 2026</text>
<text transform="translate(1461.5 1972) rotate(-30)" y="8.700">Jul 2026</text>
<text transform="translate(1570.3 1972) rotate(-30)" y="8.700">Sep 2026</text>
<text transform="translate(1679.1 1972) rotate(-30)" y="8.700">Nov 2026</text>
</g>
</svg>
<div class="abs" style="left:59px;top:2087px;width:1883px;height:16px;background:#ececec"></div>
<div class="abs" style="left:968px;top:2090px;width:66px;height:9px;background:repeating-linear-gradient(90deg,#d2d2d2 0,#d2d2d2 4px,rgba(0,0,0,0) 4px,rgba(0,0,0,0) 8.300px)"></div>
<div class="abs" style="left:968px;top:2093.500px;width:66px;height:2px;background:#ececec"></div>
<!--CHARTS-E-->
<!--RIGHT-S-->
<!-- right header -->
<div class="abs" style="left:1989px;top:476.700px;width:39px;height:3.200px;background:#1f1f1f;box-shadow:0 11.200px 0 #1f1f1f,0 22.500px 0 #1f1f1f"></div>
<svg style="left:2090px;top:463px" width="48" height="48" viewBox="0 0 48 48" fill="none" stroke="#1f1f1f" stroke-width="3"><path d="M22.500 8.500H6.500Q3.800 8.500 3.800 11.200V42Q3.800 44.700 6.500 44.700H37.300Q40 44.700 40 42V24"/><path d="M17.500 23.500L35.500 5.500Q37.300 3.700 39.100 5.500L42.800 9.200Q44.600 11 42.800 12.800L24.800 30.800L17 31.500Z" stroke-linejoin="round"/><path d="M32.700 7.700L40.600 15.600L43.600 12Q44.600 11 43.300 9.400L38.800 5Q37.300 3.800 36 5Z" fill="#1f1f1f" stroke="none"/></svg>
<div class="t" style="left:2800px;top:476px;font-size:26px;font-weight:700;letter-spacing:-.56px;color:#a3a3a3">0s</div>
<svg style="left:2890px;top:469px" width="41" height="41" viewBox="0 0 41 41" fill="none" stroke="#1f1f1f" stroke-width="3.200"><rect x="2.800" y="3" width="35.200" height="35" rx="3"/><path d="M27 3v35"/><path d="M15 14.500L21.500 21.200L15 28Z" fill="#1f1f1f" stroke="none"/></svg>
<div class="abs" style="left:3010.600px;top:472.300px;width:5.400px;height:5.400px;border-radius:50%;background:#1f1f1f;box-shadow:0 14.700px 0 #1f1f1f,0 29.300px 0 #1f1f1f"></div>
<div class="abs" style="left:1957px;top:554px;width:1108px;height:2px;background:#dcdcdc"></div>
<!-- message bubble -->
<div class="abs" style="left:2593px;top:586px;width:442px;height:557px;border-radius:23px;background:#efefef"></div>
<!--IMG-S-->
<svg style="left:2615px;top:610px" width="400" height="440" viewBox="0 0 2309 2540" font-family="Liberation Sans">
<defs><clipPath id="imgclip"><rect x="42" y="35" width="2210" height="2477" rx="108"/></clipPath></defs>
<g clip-path="url(#imgclip)">
<rect x="0" y="0" width="2309" height="2540" fill="#fff"/>
<text x="118" y="98" font-size="36" fill="#2a4d82" font-weight="700" letter-spacing="-1">+ableau</text><text x="258" y="98" font-size="36" fill="#4a90c8">public</text>
<path d="M522 82l8 8l8-8M690 82l8 8l8-8" stroke="#555" stroke-width="3" fill="none"/><text x="432" y="98" font-size="28" font-weight="700" fill="#333">Create</text><text x="612" y="98" font-size="28" font-weight="700" fill="#333">Learn</text>
<rect x="1037" y="58" width="780" height="62" rx="4" fill="#fff" stroke="#c8c8c8" stroke-width="4"/>
<circle cx="1070" cy="85" r="11" fill="none" stroke="#444" stroke-width="4"/><path d="M1078 94l12 12" stroke="#444" stroke-width="4"/>
<text x="1108" y="97" font-size="25" fill="#888">Search for vizzes, authors, and hashtags</text>
<rect x="1852" y="52" width="168" height="70" rx="4" fill="#0b6fcd"/><text x="1936" y="97" font-size="26" font-weight="700" fill="#fff" text-anchor="middle">Sign Up</text>
<rect x="2042" y="54" width="154" height="66" rx="4" fill="#fff" stroke="#0b6fcd" stroke-width="4"/><text x="2119" y="97" font-size="26" font-weight="700" fill="#0b6fcd" text-anchor="middle">Sign In</text>
<rect x="42" y="138" width="2131" height="62" fill="#1b6ab8"/>
<text x="1110" y="178" font-size="26" fill="#e8f0fa" text-anchor="middle">The results are in! Your Iron Viz 2026 finalists are served! <tspan font-weight="700" fill="#fff">→ Join us live on Feb 4th</tspan></text>
<path d="M2204 160h18v14l-9 12l-9-12Z" fill="#1f3f7a"/>
<text x="118" y="246" font-size="29" font-weight="700" fill="#333">Sales Opportunities Win/Loss - Key Insights <tspan font-weight="400" fill="#777">by</tspan> <tspan font-weight="400" fill="#2a6fc0" text-decoration="underline">Varun Bagga</tspan></text>
<circle cx="1785" cy="235" r="12" fill="none" stroke="#d8d8d8" stroke-width="4"/>
<circle cx="1855" cy="235" r="12" fill="none" stroke="#d8d8d8" stroke-width="4"/>
<circle cx="1922" cy="235" r="12" fill="none" stroke="#d8d8d8" stroke-width="4"/>
<circle cx="1992" cy="235" r="12" fill="none" stroke="#d8d8d8" stroke-width="4"/>
<circle cx="2062" cy="235" r="12" fill="none" stroke="#d8d8d8" stroke-width="4"/>
<rect x="85" y="270" width="2045" height="1450" fill="#f5f5f5"/><rect x="85" y="1720" width="2045" height="40" fill="#fafafa"/>
<text x="1107" y="336" font-size="37" font-weight="700" fill="#3a3a3a" text-anchor="middle">Sales Win/Loss - Data Analysis</text>
<g font-size="19" fill="#8a8a8a"><text x="100" y="386">Competitor</text><text x="100" y="414">Type</text><text x="322" y="386">Client Size By Revenue</text><text x="600" y="386">Client Size By Employee Count</text><text x="930" y="390">Opportunity Amount USD (Average)</text><text x="1297" y="390">Opportunity Number (Count Distinct)</text><text x="1660" y="390">Total Days Identified Through Qualified (Average)</text><text x="350" y="470">Value: 0oo to View Scale</text><text x="635" y="470">Value: 0oo to View Scale</text></g>
<rect x="100" y="428" width="208" height="26" fill="#fff" stroke="#999" stroke-width="3"/>
<path d="M335 443H580M612 443H872" stroke="#999" stroke-width="3"/><circle cx="337" cy="443" r="9" fill="#fff" stroke="#888" stroke-width="3"/><circle cx="577" cy="443" r="9" fill="#fff" stroke="#888" stroke-width="3"/><circle cx="615" cy="443" r="9" fill="#fff" stroke="#888" stroke-width="3"/><circle cx="871" cy="443" r="9" fill="#fff" stroke="#888" stroke-width="3"/>
<g font-size="37" fill="#5f8ab8" text-anchor="middle"><text x="1072" y="460">$91.64K</text><text x="1462" y="460">77.83K</text><text x="1866" y="460">16.31</text></g>
<text x="95" y="529" font-size="25" fill="#555">Let's understand the Conversion(Won/Loss) efficiency across <tspan font-weight="700" fill="#333">Regions</tspan></text>
<text x="1100" y="529" font-size="25" fill="#555">Spread of <tspan font-weight="700" fill="#333">Opportunity Amount</tspan> across <tspan font-weight="700" fill="#333">Route To Markets &amp; Regions</tspan></text>
<rect x="100" y="570" width="832" height="430" fill="#f7f7f7"/>
<path d="M100 637H930" stroke="#e4e4e4" stroke-width="2"/>
<path d="M100 700H930" stroke="#e4e4e4" stroke-width="2"/>
<path d="M100 763H930" stroke="#e4e4e4" stroke-width="2"/>
<path d="M100 826H930" stroke="#e4e4e4" stroke-width="2"/>
<path d="M100 890H930" stroke="#e4e4e4" stroke-width="2"/>
<path d="M100 952H930" stroke="#e4e4e4" stroke-width="2"/>
<rect x="242" y="580" width="45" height="20" fill="#82b571"/>
<rect x="242" y="612" width="241" height="20" fill="#d9676d"/>
<rect x="242" y="645" width="166" height="20" fill="#82b571"/>
<rect x="242" y="675" width="658" height="20" fill="#d9676d"/>
<rect x="242" y="707" width="49" height="20" fill="#82b571"/>
<rect x="242" y="738" width="277" height="20" fill="#d9676d"/>
<rect x="242" y="770" width="73" height="20" fill="#82b571"/>
<rect x="242" y="801" width="364" height="20" fill="#d9676d"/>
<rect x="242" y="833" width="146" height="20" fill="#82b571"/>
<rect x="242" y="865" width="600" height="20" fill="#d9676d"/>
<rect x="242" y="897" width="61" height="20" fill="#82b571"/>
<rect x="242" y="928" width="344" height="20" fill="#d9676d"/>
<rect x="242" y="959" width="57" height="20" fill="#82b571"/>
<g font-size="19" fill="#9a9a9a">
<text x="110" y="597">Mid-Atlantic</text>
<text x="110" y="661">Midwest</text>
<text x="110" y="724">Northeast</text>
<text x="110" y="787">Northwest</text>
<text x="110" y="850">Pacific</text>
<text x="110" y="913">Southeast</text>
<text x="110" y="976">Southwest</text>
<text x="245" y="1022">0M</text>
<text x="312" y="1022">200M</text>
<text x="405" y="1022">400M</text>
<text x="500" y="1022">600M</text>
<text x="595" y="1022">800M</text>
<text x="688" y="1022">1000M</text>
<text x="783" y="1022">1200M</text>
<text x="873" y="1022">1400M</text>
<text x="585" y="1050" text-anchor="middle" fill="#777">Opportunity Amount USD</text></g>
<rect x="935" y="575" width="20" height="390" rx="6" fill="#e2e2e2"/>
<text x="975" y="561" font-size="19" fill="#666">Opp. Result</text><rect x="980" y="578" width="20" height="20" fill="#82b571"/><text x="1010" y="595" font-size="19" fill="#999">Won</text><rect x="980" y="610" width="20" height="20" fill="#d9676d"/><text x="1010" y="627" font-size="19" fill="#999">Loss</text>
<rect x="1217" y="865" width="79" height="107" fill="#5d86b3"/>
<rect x="1217" y="972" width="79" height="48" fill="#f0cf59"/>
<rect x="1322" y="572" width="79" height="308" fill="#5d86b3"/>
<rect x="1322" y="880" width="79" height="12" fill="#95cf7e"/>
<rect x="1322" y="892" width="79" height="118" fill="#f0cf59"/>
<rect x="1322" y="1010" width="79" height="10" fill="#b5673a"/>
<rect x="1427" y="843" width="79" height="117" fill="#5d86b3"/>
<rect x="1427" y="960" width="79" height="60" fill="#f0cf59"/>
<rect x="1532" y="783" width="79" height="155" fill="#5d86b3"/>
<rect x="1532" y="938" width="79" height="82" fill="#f0cf59"/>
<rect x="1638" y="615" width="79" height="235" fill="#5d86b3"/>
<rect x="1638" y="850" width="79" height="55" fill="#95cf7e"/>
<rect x="1638" y="905" width="79" height="95" fill="#f0cf59"/>
<rect x="1638" y="1000" width="79" height="20" fill="#b5673a"/>
<rect x="1745" y="797" width="79" height="161" fill="#5d86b3"/>
<rect x="1745" y="958" width="79" height="62" fill="#f0cf59"/>
<rect x="1850" y="830" width="79" height="125" fill="#5d86b3"/>
<rect x="1850" y="955" width="79" height="65" fill="#f0cf59"/>
<g font-size="19" fill="#aaa"><text x="1125" y="642">$1.50B</text><text x="1125" y="772">$1.00B</text><text x="1125" y="899">$0.50B</text><text x="1125" y="1015">$0.00B</text>
<text x="1205" y="1050">Mid-Atlan..</text>
<text x="1320" y="1050">Midwest</text>
<text x="1420" y="1050">Northeast</text>
<text x="1522" y="1050">Northwest</text>
<text x="1648" y="1050">Pacific</text>
<text x="1738" y="1050">Southeast</text>
<text x="1842" y="1050">Southwest</text>
</g>
<text transform="translate(1114 785) rotate(-90)" font-size="18" fill="#777" text-anchor="middle">Opportunity Amount USD</text>
<g font-size="19" fill="#999"><text x="1953" y="510" fill="#666">Route To Market</text>
<rect x="1958" y="525" width="20" height="20" fill="#5d86b3"/><text x="1990" y="542">Fields Sales</text>
<rect x="1958" y="557" width="20" height="20" fill="#95cf7e"/><text x="1990" y="574">Other</text>
<rect x="1958" y="588" width="20" height="20" fill="#f0cf59"/><text x="1990" y="605">Reseller</text>
<rect x="1958" y="620" width="20" height="20" fill="#cf5558"/><text x="1990" y="637">Telecoverage</text>
<rect x="1958" y="652" width="20" height="20" fill="#a8785a"/><text x="1990" y="669">Telesales</text>
</g>
<g font-size="19" fill="#9a9a9a"><text x="100" y="1090">Insight: "Midwest" and "Pacific" are the leading regions in terms of opportunity amount.</text><text x="100" y="1118">Overall, there's a huge room for improving sales execution efficiency across all regions.</text><text x="1095" y="1090">Insight: "Fields Sales" and "Reseller" are the top two significant routes to market in every</text><text x="1095" y="1118">region. We can drilldown to analyze routes minutely, and strategize accordingly.</text></g>
<text x="1048" y="1179" font-size="25" fill="#555" text-anchor="middle"><tspan font-weight="700" fill="#333">Opportunity Amount</tspan> by <tspan font-weight="700" fill="#333">Total Days Identified through Qualified</tspan>, <tspan font-weight="700" fill="#333">Supplies Subgroups</tspan> and <tspan font-weight="700" fill="#333">Opportunity Result</tspan></text>
<text x="2010" y="1162" font-size="19" fill="#666">Opp. Result</text><rect x="2015" y="1178" width="20" height="20" fill="#d9676d"/><text x="2045" y="1195" font-size="19" fill="#999">Loss</text><rect x="2015" y="1210" width="20" height="20" fill="#82b571"/><text x="2045" y="1227" font-size="19" fill="#999">Won</text>
<text transform="translate(122 1368) rotate(-90)" font-size="18" fill="#666" text-anchor="middle">Opportunity Amount USD (Average)</text>
<g font-size="18" fill="#bbb"><text x="140" y="1228">150K</text><text x="140" y="1334">100K</text><text x="150" y="1438">50K</text><text x="155" y="1528">0K</text>
<text x="262" y="1568" text-anchor="middle">6</text>
<text x="375" y="1568" text-anchor="middle">7</text>
<text x="489" y="1568" text-anchor="middle">8</text>
<text x="603" y="1568" text-anchor="middle">9</text>
<text x="716" y="1568" text-anchor="middle">10</text>
<text x="830" y="1568" text-anchor="middle">11</text>
<text x="944" y="1568" text-anchor="middle">12</text>
<text x="1057" y="1568" text-anchor="middle">13</text>
<text x="1171" y="1568" text-anchor="middle">14</text>
<text x="1285" y="1568" text-anchor="middle">15</text>
<text x="1399" y="1568" text-anchor="middle">16</text>
<text x="1512" y="1568" text-anchor="middle">17</text>
<text x="1626" y="1568" text-anchor="middle">18</text>
<text x="1740" y="1568" text-anchor="middle">19</text>
<text x="1853" y="1568" text-anchor="middle">20</text>
<text x="1967" y="1568" text-anchor="middle">21</text>
</g>
<text x="1093" y="1608" font-size="19" fill="#666" text-anchor="middle">Total Days Identified Through Qualified (Average)</text>
<circle cx="655" cy="1272" r="7" fill="none" stroke="#82b571" stroke-width="3"/>
<circle cx="525" cy="1337" r="7" fill="none" stroke="#82b571" stroke-width="3"/>
<circle cx="550" cy="1342" r="7" fill="none" stroke="#82b571" stroke-width="3"/>
<circle cx="672" cy="1337" r="7" fill="none" stroke="#82b571" stroke-width="3"/>
<circle cx="572" cy="1377" r="7" fill="none" stroke="#82b571" stroke-width="3"/>
<circle cx="790" cy="1374" r="7" fill="none" stroke="#82b571" stroke-width="3"/>
<circle cx="400" cy="1415" r="7" fill="none" stroke="#82b571" stroke-width="3"/>
<circle cx="278" cy="1432" r="7" fill="none" stroke="#82b571" stroke-width="3"/>
<circle cx="297" cy="1427" r="7" fill="none" stroke="#82b571" stroke-width="3"/>
<circle cx="940" cy="1415" r="7" fill="none" stroke="#82b571" stroke-width="3"/>
<circle cx="1520" cy="1274" r="7" fill="none" stroke="#e0787d" stroke-width="3"/>
<circle cx="1593" cy="1285" r="7" fill="none" stroke="#e0787d" stroke-width="3"/>
<circle cx="1680" cy="1295" r="7" fill="none" stroke="#e0787d" stroke-width="3"/>
<circle cx="1730" cy="1307" r="7" fill="none" stroke="#e0787d" stroke-width="3"/>
<circle cx="1635" cy="1332" r="7" fill="none" stroke="#e0787d" stroke-width="3"/>
<circle cx="1700" cy="1349" r="7" fill="none" stroke="#e0787d" stroke-width="3"/>
<circle cx="1740" cy="1384" r="7" fill="none" stroke="#e0787d" stroke-width="3"/>
<circle cx="1765" cy="1377" r="7" fill="none" stroke="#e0787d" stroke-width="3"/>
<circle cx="1632" cy="1402" r="7" fill="none" stroke="#e0787d" stroke-width="3"/>
<circle cx="1907" cy="1222" r="7" fill="none" stroke="#e0787d" stroke-width="3"/>
<circle cx="1900" cy="1297" r="7" fill="none" stroke="#e0787d" stroke-width="3"/>
<g font-size="18" fill="#666">
<text x="593" y="1303">Shelters &amp; RV</text>
<text x="303" y="1344">Batteries &amp; Accessories</text>
<text x="373" y="1374">Interior Accessories</text>
<text x="585" y="1369">Performance Parts</text>
<text x="478" y="1410">Exterior Accessories</text>
<text x="725" y="1405">Tires &amp; Wheels</text>
<text x="316" y="1448">Replacement Parts</text>
<text x="873" y="1448">Car Electronics</text>
<text x="1327" y="1281">Interior Accessories</text>
<text x="1525" y="1315">Tires &amp; Wheels</text>
<text x="1845" y="1255">Shelters &amp; RV</text>
<text x="1815" y="1328">Performance Parts</text>
<text x="1712" y="1358">Exterior Accessories</text>
<text x="1778" y="1386">Motorcycle Parts</text>
<text x="1652" y="1417">Replacement Parts</text>
</g>
<g font-size="18" fill="#a5a5a5"><text x="100" y="1663">Insight: Looking from left to right, the floater chart shows that irrespective of opportunity amounts, we start losing deals as they stay longer in the pipeline. We can formulate threshold levels for each supplier</text><text x="100" y="1690">based on how many days a deal is in the pipeline and create alert mechanisms to expedite its progression.</text></g>
<circle cx="147" cy="1741" r="10" fill="none" stroke="#888" stroke-width="3"/><text x="168" y="1749" font-size="20" fill="#666">View on Tableau Public</text><text x="2038" y="1749" font-size="20" fill="#666">Share</text>
<rect x="1547" y="1730" width="22" height="22" rx="4" fill="none" stroke="#e2e2e2" stroke-width="3"/>
<rect x="1607" y="1730" width="22" height="22" rx="4" fill="none" stroke="#e2e2e2" stroke-width="3"/>
<rect x="1672" y="1730" width="22" height="22" rx="4" fill="none" stroke="#e2e2e2" stroke-width="3"/>
<rect x="1730" y="1730" width="22" height="22" rx="4" fill="none" stroke="#e2e2e2" stroke-width="3"/>
<rect x="1865" y="1730" width="22" height="22" rx="4" fill="none" stroke="#999" stroke-width="3"/>
<rect x="1945" y="1730" width="22" height="22" rx="4" fill="none" stroke="#999" stroke-width="3"/>
<rect x="2005" y="1730" width="22" height="22" rx="4" fill="none" stroke="#999" stroke-width="3"/>
<circle cx="150" cy="1845" r="25" fill="#fafafa" stroke="#e6e6e6" stroke-width="3"/><circle cx="150" cy="1845" r="9" fill="none" stroke="#999" stroke-width="3"/>
<circle cx="220" cy="1845" r="25" fill="#fafafa" stroke="#e6e6e6" stroke-width="3"/><circle cx="220" cy="1845" r="9" fill="none" stroke="#999" stroke-width="3"/>
<circle cx="288" cy="1845" r="25" fill="#fafafa" stroke="#e6e6e6" stroke-width="3"/><circle cx="288" cy="1845" r="9" fill="none" stroke="#999" stroke-width="3"/>
<path d="M120 1912H2100" stroke="#eeeeee" stroke-width="3"/>
<text x="118" y="1975" font-size="31" font-weight="700" fill="#333">Details</text>
<text x="120" y="2038" font-size="20" fill="#888">4 Favorites     586 Views</text>
<text x="118" y="2130" font-size="22" fill="#333"><tspan font-weight="700">First Published Date:</tspan>  <tspan fill="#777">Apr 30, 2018</tspan>      <tspan font-weight="700">Last Published Date:</tspan>  <tspan fill="#777">Apr 30, 2018</tspan></text>
<rect x="42" y="2210" width="2131" height="310" fill="#151515"/>
<rect x="93" y="2260" width="253" height="52" fill="#2c2c2c"/><text x="115" y="2294" font-size="20" fill="#8a8a8a">English (US)</text><path d="M308 2280h16l-8 9Z" fill="#ccc"/>
<g font-size="21" fill="#7a7a7a"><text x="397" y="2294">Trust</text><text x="497" y="2294">Blog</text><text x="592" y="2294">FAQ</text><text x="685" y="2294">About</text><text x="797" y="2294">Tableau Products</text><text x="1022" y="2294">Careers</text><text x="1152" y="2294">Contact Us</text></g>
<circle cx="1933" cy="2287" r="18" fill="none" stroke="#555" stroke-width="3"/><circle cx="1933" cy="2287" r="6" fill="#777"/>
<circle cx="2015" cy="2287" r="18" fill="none" stroke="#555" stroke-width="3"/><circle cx="2015" cy="2287" r="6" fill="#777"/>
<circle cx="2097" cy="2287" r="18" fill="none" stroke="#555" stroke-width="3"/><circle cx="2097" cy="2287" r="6" fill="#777"/>
<g font-size="18" fill="#3f3f3f" letter-spacing="1"><text x="93" y="2375">LEGAL</text><text x="190" y="2375">TERMS OF SERVICE</text><text x="415" y="2375">PRIVACY INFORMATION</text><text x="675" y="2375">DATA POLICY</text><text x="838" y="2375">RESPONSIBLE DISCLOSURE</text><text x="1142" y="2375">UNINSTALL</text><text x="1870" y="2375">© 2026 SALESFORCE, INC.</text><text x="93" y="2438">COOKIE PREFERENCES</text><text x="418" y="2438">YOUR PRIVACY CHOICES</text></g>
<rect x="352" y="2420" width="54" height="24" rx="12" fill="#2a6fd0"/><rect x="352" y="2420" width="30" height="24" rx="12" fill="#e8eef8"/>
</g></svg>
<!--IMG-E-->
<div class="t" style="left:2623px;top:1074.500px;font-size:30px;letter-spacing:-.07px;color:#1c1c1c">create a dashboard like this</div>
<!-- steps -->
<div class="abs" style="left:2036px;top:1346px;width:4.500px;height:314px;background:#e0e0e0"></div>
<div class="abs" style="left:2010.500px;top:1264.500px;width:941px;height:84px;border-radius:10px;border:2px solid #e0e0e0;background:#fafafa"></div>
<svg style="left:2046px;top:1295px" width="28" height="22" viewBox="0 0 28 22" fill="none" stroke="#4caf50" stroke-width="3"><path d="M1.500 11.500L9.500 19.500L26.500 2"/></svg>
<div class="t" style="left:2101.500px;top:1293px;font-size:27px;font-weight:400;-webkit-text-stroke:.9px #2a2a2a;letter-spacing:-.26px;color:#2a2a2a">4 steps completed</div>
<svg style="left:2898px;top:1299.500px" width="21" height="13" viewBox="0 0 21 13" fill="none" stroke="#757575" stroke-width="2.600"><path d="M1.500 11.500L10.500 2.500L19.500 11.500"/></svg>
<style>
.sk{position:absolute;left:2095px;width:23px;height:17px}
.sb{position:absolute;white-space:pre;line-height:1;left:2143px;font-size:27px;font-weight:400;-webkit-text-stroke:.9px #2a2a2a;letter-spacing:-.88px;color:#2a2a2a}
.sd{position:absolute;left:2255px;width:18px;height:2px;background:#9e9e9e}
.sx{position:absolute;white-space:pre;line-height:1;left:2289px;font-size:27px;color:#5f5f5f}
</style>
<svg class="sk" style="top:1392px" viewBox="0 0 23 17" fill="none" stroke="#4caf50" stroke-width="2.600"><path d="M1.500 9L7.500 15L21.500 1.500"/></svg>
<div class="sb" style="top:1386.500px">Schema</div><div class="sd" style="top:1399px"></div><div class="sx" style="top:1386.500px;letter-spacing:-.34px">Salesforce Opportunity: 18 fields</div>
<svg class="sk" style="top:1461.500px" viewBox="0 0 23 17" fill="none" stroke="#4caf50" stroke-width="2.600"><path d="M1.500 9L7.500 15L21.500 1.500"/></svg>
<div class="sb" style="top:1456px">Schema</div><div class="sd" style="top:1468.500px"></div><div class="sx" style="top:1456px;letter-spacing:-.4px">SL Product: 1 field</div>
<svg class="sk" style="top:1530.500px" viewBox="0 0 23 17" fill="none" stroke="#4caf50" stroke-width="2.600"><path d="M1.500 9L7.500 15L21.500 1.500"/></svg>
<div class="sb" style="top:1525px">Schema</div><div class="sd" style="top:1537.500px"></div><div class="sx" style="top:1525px;letter-spacing:-.25px">Salesforce Territory: 7 fields</div>
<svg class="sk" style="top:1600px" viewBox="0 0 23 17" fill="none" stroke="#4caf50" stroke-width="2.600"><path d="M1.500 9L7.500 15L21.500 1.500"/></svg>
<div class="sb" style="top:1594.500px">Schema</div><div class="sd" style="top:1607px"></div><div class="sx" style="top:1594.500px;letter-spacing:-.45px">Salesforce User: 15 fields</div>
<!-- composer -->
<div class="abs" style="left:1957px;top:1851px;width:1108px;height:252px;background:#fafafa;border-top:2.500px solid #dedede"></div>
<div class="abs" style="left:1972px;top:1869.500px;width:1077px;height:74px;border-radius:17px;border:2px solid #dcdcdc;background:#fafafa"></div>
<div class="t" style="left:1989.500px;top:1888px;font-size:31px;letter-spacing:-.78px;color:#777">Type a message...</div>
<svg style="left:2003px;top:2015.500px" width="41" height="40" viewBox="0 0 41 40" fill="none" stroke="#8c8c8c" stroke-width="3"><rect x="1.500" y="1.500" width="38" height="37" rx="2"/><path d="M8 30.500L14.500 22L19 27.500L25.500 19L33 30.500Z" fill="#8c8c8c" stroke="none"/></svg>
<div class="abs" style="left:2087.500px;top:2010px;width:104px;height:47px;border-radius:9px;border:2px solid #f0f0f0;background:#fafafa"></div>
<svg style="left:2104px;top:2020px" width="30" height="26" viewBox="0 0 30 26" fill="none" stroke="#cfccf3" stroke-width="2.600"><rect x="5" y="6" width="20" height="17.500" rx="3.500"/><path d="M15 6V1.500M1.500 12v6M28.500 12v6M10.500 18.500h9" stroke-linecap="round"/><circle cx="11" cy="12.500" r="1.600" fill="#cfccf3" stroke="none"/><circle cx="19" cy="12.500" r="1.600" fill="#cfccf3" stroke="none"/></svg>
<svg style="left:2154px;top:2030px" width="13" height="7" viewBox="0 0 13 7"><path d="M0 0H13L6.500 7Z" fill="#dadada"/></svg>
<div class="abs" style="left:2204px;top:2012px;width:104px;height:47px;border-radius:9px;border:2px solid #eaeaea;background:#fafafa"></div>
<svg style="left:2223px;top:2023.500px" width="23" height="23" viewBox="0 0 24 24"><path fill="#b4b4b4" d="M22.610 18.990l-9.080-9.080c.930-2.340.450-5.100-1.440-7C9.790.610 6.210.400 3.660 2.260L7.500 6.110 6.080 7.520 2.250 3.690C.390 6.230.600 9.820 2.900 12.110c1.860 1.860 4.570 2.350 6.890 1.480l9.110 9.110c.390.390 1.020.390 1.410 0l2.300-2.300c.400-.380.400-1.010 0-1.410zm-3 1.600l-9.460-9.460c-.610.450-1.290.720-2 .820-1.360.200-2.790-.210-3.830-1.250C3.370 9.760 2.930 8.500 3 7.260l3.090 3.090 4.240-4.240-3.090-3.090c1.240-.070 2.490.370 3.440 1.310 1.080 1.080 1.490 2.570 1.240 3.960-.120.710-.420 1.370-.880 1.960l9.450 9.450-.880.890z"/></svg>
<svg style="left:2270px;top:2032px" width="13" height="7" viewBox="0 0 13 7"><path d="M0 0H13L6.500 7Z" fill="#c2c2c2"/></svg>
<div class="abs" style="left:2322px;top:2012px;width:164.500px;height:47px;border-radius:9px;border:2px solid #eaeaea;background:#fafafa"></div>
<svg style="left:2340px;top:2022px" width="26" height="28" viewBox="0 0 26 28" fill="none" stroke="#b2b2b2" stroke-width="2.100" stroke-linejoin="round"><path d="M7 26.500V21Q1.500 17.500 1.500 11.500Q2 2 12 1.500Q21 2 22 11L24.500 16H22V20.500Q22 22.500 20 22.500H17.500V26.500"/><circle cx="12" cy="11" r="3.200"/><path d="M12 5.500v2.300M12 14.200v2.300M6.500 11h2.300M15.200 11h2.300M8.100 7.100l1.600 1.600M14.300 13.300l1.600 1.600M15.900 7.100l-1.600 1.600M9.700 13.300l-1.600 1.600" stroke-width="1.800"/></svg>
<div class="t" style="left:2376px;top:2025px;font-size:21px;letter-spacing:.5px;color:#b0b0b0">None</div>
<svg style="left:2448.500px;top:2032px" width="13" height="7" viewBox="0 0 13 7"><path d="M0 0H13L6.500 7Z" fill="#c2c2c2"/></svg>
<div class="abs" style="left:2499.500px;top:2028.500px;width:129px;height:13px;border-radius:6.500px;background:#eeeeee;overflow:hidden"><div class="abs" style="left:0;top:0;width:19.500px;height:13px;background:#4caf50"></div></div>
<div class="t" style="left:2645.500px;top:2025px;font-size:20px;letter-spacing:-.7px;color:#6f6f6f">15%</div>
<div class="abs" style="left:2966px;top:2004.500px;width:84px;height:61px;border-radius:12px;background:#f0392b"></div>
<div class="abs" style="left:2998.500px;top:2025.500px;width:19px;height:19px;border:3px solid #fff"></div>
<!-- splitter handle -->
<div class="abs" style="left:1945px;top:1228px;width:9px;height:66px;background:repeating-linear-gradient(180deg,#d0d0d0 0,#d0d0d0 4px,rgba(0,0,0,0) 4px,rgba(0,0,0,0) 8.300px)"></div>
<div class="abs" style="left:1948.500px;top:1228px;width:2px;height:66px;background:#ececec"></div>
<!--RIGHT-E-->
</div>
</body>
</html>
